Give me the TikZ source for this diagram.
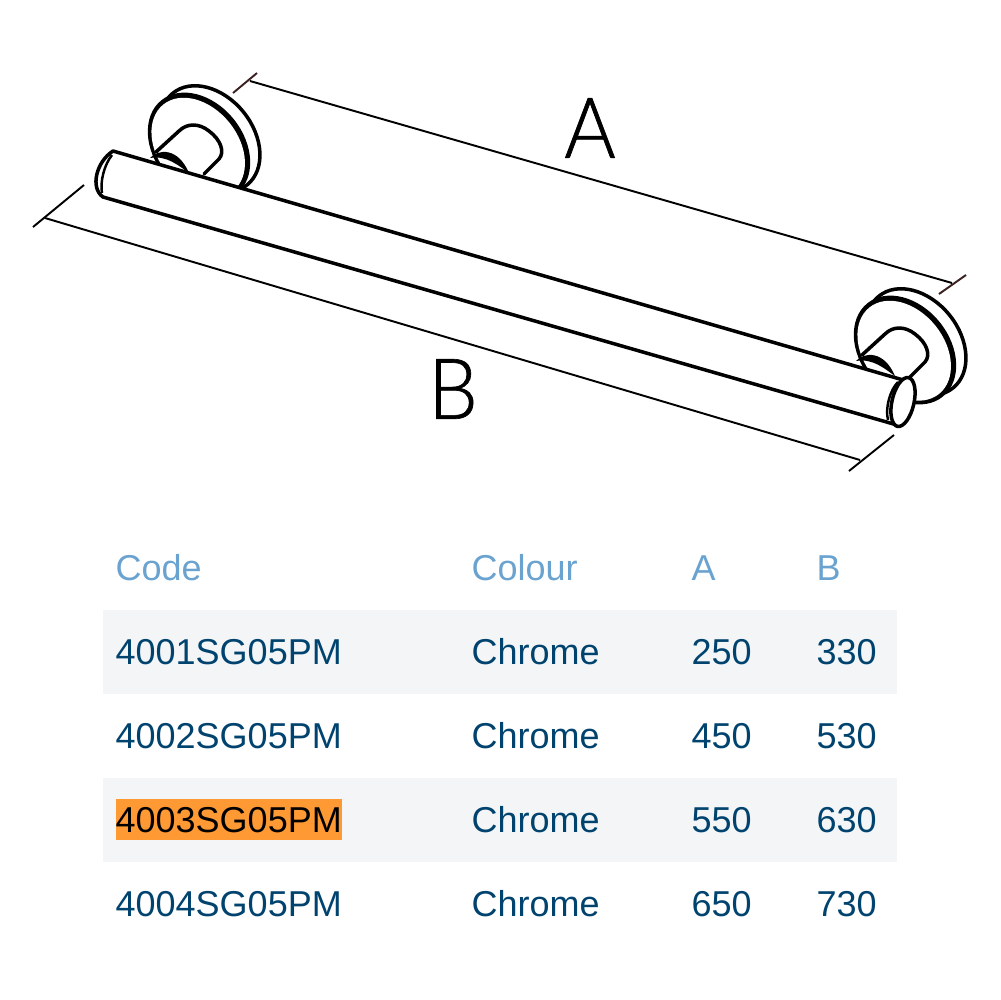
\documentclass[tikz,border=0pt]{standalone}
\usepackage{fontspec}
\setmainfont{Liberation Sans}
\newfontfamily\dimfont[FakeBold=0.8,FakeStretch=0.93]{Lato Light}
\usepackage{tikz}
\usetikzlibrary{positioning}
\usetikzlibrary{calc}
\definecolor{headblue}{HTML}{6BA3D0}
\definecolor{cellblue}{HTML}{00436E}
\definecolor{bandgrey}{HTML}{F4F5F7}
\definecolor{markorange}{HTML}{FF9933}
\definecolor{tickbrown}{HTML}{3A2020}

\begin{document}
\begin{tikzpicture}[x=0.1mm,y=-0.1mm]
\tikzstyle{head}=[anchor=base west,inner sep=0pt,text=headblue,font=\fontsize{10.24}{12}\selectfont]
\tikzstyle{cell}=[anchor=base west,inner sep=0pt,text=cellblue,font=\fontsize{10.24}{12}\selectfont]
\tikzstyle{dimlabel}=[inner sep=0pt,font=\dimfont\fontsize{24}{28}\selectfont]
\tikzstyle{dimline}=[line width=0.55pt]
\tikzstyle{outline}=[line width=1pt,line cap=round,line join=round]
\useasboundingbox (0,0) rectangle (1000,1000);
\fill[white] (0,0) rectangle (1000,1000);
% wall plates, the right one is the left one moved along
\foreach \dx/\dy in {0/0,706/203}{
\begin{scope}[shift={(\dx,\dy)}]
\draw[outline,fill=white] (210,139) ellipse [x radius=59,y radius=43,rotate=-51];
\fill (199,147) ellipse [x radius=60,y radius=44.5,rotate=-51];
\fill[white] (198.2,147.7) ellipse [x radius=55.5,y radius=40,rotate=-51];
\draw[outline] (156,152) -- (179,131) .. controls (187,123) and (199,123) .. (209,131)
  .. controls (221,140) and (225,152) .. (219,159) -- (204,174);
\fill (150,158) .. controls (158,149) and (178,147) .. (189,173) .. controls (179,166) and (167,155) .. (150,158);
\end{scope}
}
% bar
\draw[outline,fill=white] (113,151) -- (905,380.5) -- (897,425) -- (103,197)
  .. controls (90,188) and (96,162) .. (113,151) -- cycle;
\draw[line width=0.7pt] (112,155) .. controls (104,165) and (100,182) .. (102,193);
\draw[outline,fill=white] (903,402) ellipse [x radius=25,y radius=11,rotate=77];
\draw[line width=0.7pt] (898,382) .. controls (890,390) and (885,408) .. (888,420);
% dimension lines
\coordinate (a0) at (250,81);
\coordinate (a1) at (952,283);
\coordinate (a0up) at (257,73);
\coordinate (a0down) at (233,93);
\coordinate (a1up) at (966,275);
\coordinate (a1down) at (939,294);
\coordinate (b0) at (45,218);
\coordinate (b1) at (860,460);
\coordinate (b0up) at (84,185);
\coordinate (b0down) at (33,227);
\coordinate (b1up) at (894,435);
\coordinate (b1down) at (849,471);
\draw[dimline] (a0) -- (a1);
\draw[dimline,color=tickbrown] (a0up) -- (a0down);
\draw[dimline,color=tickbrown] (a1up) -- (a1down);
\draw[dimline] (b0) -- (b1);
\draw[dimline] (b0up) -- (b0down);
\draw[dimline] (b1up) -- (b1down);
\node[dimlabel] (labela) at (590,128) {A};
\node[dimlabel] (labelb) at (453,389) {B};
% table
\fill[bandgrey] (103,610) rectangle (897,694);
\fill[bandgrey] (103,778) rectangle (897,862);
\fill[markorange] (116,799) rectangle (342,840);
\node[head] (headcode) at (115,580) {Code};
\node[head] (headcolour) at (471,580) {Colour};
\node[head] (heada) at (691,580) {A};
\node[head] (headb) at (816,580) {B};
\node[cell] (code1) at (115,664) {4001SG05PM};
\node[cell] (colour1) at (471,664) {Chrome};
\node[cell] (a1val) at (691,664) {250};
\node[cell] (b1val) at (816,664) {330};
\node[cell] (code2) at (115,748) {4002SG05PM};
\node[cell] (colour2) at (471,748) {Chrome};
\node[cell] (a2val) at (691,748) {450};
\node[cell] (b2val) at (816,748) {530};
\node[cell,text=black] (code3) at (115,832) {4003SG05PM};
\node[cell] (colour3) at (471,832) {Chrome};
\node[cell] (a3val) at (691,832) {550};
\node[cell] (b3val) at (816,832) {630};
\node[cell] (code4) at (115,916) {4004SG05PM};
\node[cell] (colour4) at (471,916) {Chrome};
\node[cell] (a4val) at (691,916) {650};
\node[cell] (b4val) at (816,916) {730};
\end{tikzpicture}
\end{document}
